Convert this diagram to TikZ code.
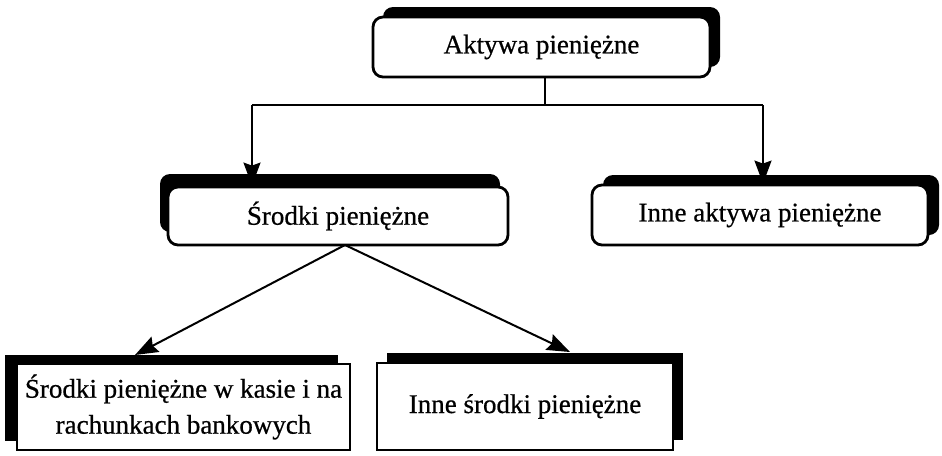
\documentclass[tikz,border=0pt]{standalone}
\usepackage{fontspec}
\setmainfont{Liberation Serif}[FakeBold=0.6]
\usetikzlibrary{arrows.meta,shadows}
\tikzset{
  box/.style={draw=black, line width=1.4pt, fill=white, inner sep=0pt, align=center,
    font=\fontsize{13.5pt}{18pt}\selectfont},
  roundbox/.style={box, rounded corners=5pt},
  squarebox/.style={box, line width=1.1pt},
  shade/.style 2 args={general shadow={shadow xshift=#1, shadow yshift=#2, fill=black}},
  arr/.style={line width=1pt, -{Stealth[length=11.5pt,width=8.5pt,inset=1.5pt]}},
  link/.style={line width=1pt}
}
\begin{document}
\begin{tikzpicture}[x=0.5pt,y=-0.5pt]
  \useasboundingbox (0,0) rectangle (942,455);

  % boxes
  \node[roundbox, shade={5pt}{5pt}, minimum width=168.5pt, minimum height=30pt]
    (top) at (541.5,47) {Aktywa pieniężne};
  \node[roundbox, shade={-4pt}{6.5pt}, minimum width=170pt, minimum height=29pt]
    (mid1) at (338,216) {Środki pieniężne};
  \node[roundbox, shade={5.5pt}{5pt}, minimum width=168pt, minimum height=30pt]
    (mid2) at (760,215) {Inne aktywa pieniężne};
  \node[squarebox, shade={-6pt}{4.5pt}, minimum width=166.5pt, minimum height=43pt]
    (bl) at (183.5,407) {Środki pieniężne w kasie i na\\rachunkach bankowych};
  \node[squarebox, shade={5pt}{5pt}, minimum width=148pt, minimum height=43.5pt]
    (br) at (525,406.5) {Inne środki pieniężne};

  % connector points
  \coordinate (busL) at (252,105);
  \coordinate (busR) at (763,105);
  \coordinate (fork) at (345,245);
  \coordinate (tipL) at (135,355);
  \coordinate (tipR) at (570,352);

  % top level split
  \draw[link] ([xshift=1.75pt]top.south) -- ([xshift=1.75pt]top.south |- busL);
  \draw[link] (busL) -- (busR);
  \draw[arr] (busL) -- (busL |- mid1.north);
  \draw[arr] (busR) -- (busR |- mid2.north);

  % second level split
  \draw[arr] (fork) -- (tipL);
  \draw[arr] (fork) -- (tipR);
\end{tikzpicture}
\end{document}
